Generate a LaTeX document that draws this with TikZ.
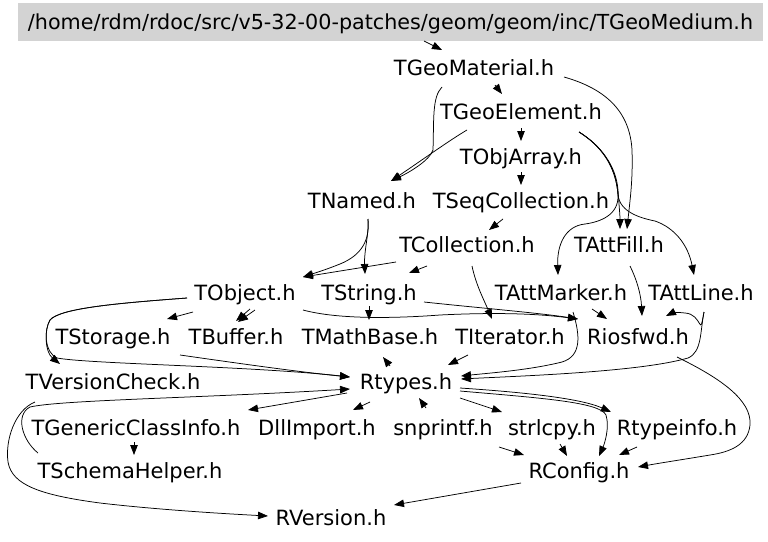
\documentclass[tikz,border=0pt]{standalone}
\usepackage{fontspec}
\setmainfont{DejaVu Sans}
\usetikzlibrary{arrows.meta}
\definecolor{hdrgray}{RGB}{211,211,211}
\begin{document}
\begin{tikzpicture}[x=1pt,y=-1pt,
  lbl/.style={inner sep=0pt, text height=15.3pt, text depth=0pt, font=\fontsize{21}{25}\selectfont},
  hdr/.style={lbl, font=\fontsize{20.7}{25}\selectfont, fill=hdrgray, minimum width=745pt, minimum height=38pt},
  arr/.style={draw=black, line width=0.75pt, -{Triangle[length=10pt,width=7.5pt]}}]
\useasboundingbox (0,0) rectangle (768,541);
\node[hdr] (H) at (390.5,22) {/home/rdm/rdoc/src/v5-32-00-patches/geom/geom/inc/TGeoMedium.h};
\node[lbl] (GMat) at (474,68) {TGeoMaterial.h};
\node[lbl] (GEl) at (521,112) {TGeoElement.h};
\node[lbl] (OA) at (521,157) {TObjArray.h};
\node[lbl] (Named) at (362,201) {TNamed.h};
\node[lbl] (Seq) at (521,201) {TSeqCollection.h};
\node[lbl] (Coll) at (467,245) {TCollection.h};
\node[lbl] (Fill) at (619,245) {TAttFill.h};
\node[lbl] (Obj) at (245,293) {TObject.h};
\node[lbl] (Str) at (369,293) {TString.h};
\node[lbl] (Mark) at (561,293) {TAttMarker.h};
\node[lbl] (Line) at (701,293) {TAttLine.h};
\node[lbl] (Stor) at (113,337) {TStorage.h};
\node[lbl] (Buf) at (236,337) {TBuffer.h};
\node[lbl] (Math) at (370,337) {TMathBase.h};
\node[lbl] (Iter) at (510,337) {TIterator.h};
\node[lbl] (Rios) at (638,337) {Riosfwd.h};
\node[lbl] (VC) at (113,382) {TVersionCheck.h};
\node[lbl] (Rt) at (406,382) {Rtypes.h};
\node[lbl] (GCI) at (136,428) {TGenericClassInfo.h};
\node[lbl] (Dll) at (317,428) {DllImport.h};
\node[lbl] (Snp) at (443,428) {snprintf.h};
\node[lbl] (Strl) at (552,428) {strlcpy.h};
\node[lbl] (Rti) at (677,428) {Rtypeinfo.h};
\node[lbl] (SH) at (130,471) {TSchemaHelper.h};
\node[lbl] (RC) at (579,471) {RConfig.h};
\node[lbl] (RV) at (331,518) {RVersion.h};
% edges
\draw[arr] ([shift={(33.5,19)}]H.center) -- ([shift={(-32,-18)}]GMat.center);
\draw[arr] ([shift={(21,17)}]GMat.center) -- ([shift={(-19,-18)}]GEl.center);
\draw[arr] ([shift={(-32,19)}]GMat.center) .. controls (432,97) and (434,120) .. (433,150) .. controls (430,160) and (410,172) .. ([shift={(29,-20)}]Named.center);
\draw[arr] ([shift={(-54,18)}]GEl.center) .. controls (450,140) and (425,158) .. ([shift={(29,-20)}]Named.center);
\draw[arr] ([shift={(90,9)}]GMat.center) .. controls (610,90) and (630,115) .. (632,150) .. controls (633,180) and (630,200) .. ([shift={(8,-16)}]Fill.center);
\draw[arr] ([shift={(58,20)}]GEl.center) .. controls (600,145) and (616,165) .. (618,190) .. controls (619,205) and (620,215) .. ([shift={(1,-16)}]Fill.center);
\draw[arr] ([shift={(58,20)}]GEl.center) .. controls (600,145) and (616,165) .. (618,195) .. controls (619,215) and (600,222) .. (585,224) .. controls (565,226) and (557,245) .. ([shift={(-3,-18)}]Mark.center);
\draw[arr] ([shift={(58,20)}]GEl.center) .. controls (600,145) and (616,165) .. (618,195) .. controls (620,212) and (640,218) .. (655,221) .. controls (675,228) and (688,245) .. ([shift={(-7,-18)}]Line.center);
\draw[arr] ([shift={(0,16)}]GEl.center) -- ([shift={(0,-16)}]OA.center);
\draw[arr] ([shift={(0,15)}]OA.center) -- ([shift={(0,-16)}]Seq.center);
\draw[arr] ([shift={(-18,18)}]Seq.center) -- ([shift={(22,-15)}]Coll.center);
\draw[arr] ([shift={(6,18)}]Named.center) .. controls (370,240) and (362,255) .. (340,264) .. controls (325,270) and (315,273) .. ([shift={(58,-16)}]Obj.center);
\draw[arr] ([shift={(6,18)}]Named.center) .. controls (369,235) and (364,250) .. ([shift={(-4,-19)}]Str.center);
\draw[arr] ([shift={(-71,17)}]Coll.center) -- ([shift={(58,-16)}]Obj.center);
\draw[arr] ([shift={(-40,21)}]Coll.center) -- ([shift={(40,-20)}]Str.center);
\draw[arr] ([shift={(5,21)}]Coll.center) .. controls (476,285) and (484,300) .. ([shift={(-18,-18)}]Iter.center);
\draw[arr] ([shift={(-52,19)}]Obj.center) -- ([shift={(54,-18)}]Stor.center);
\draw[arr] ([shift={(10,17)}]Obj.center) -- ([shift={(2,-15)}]Buf.center);
\draw[arr] ([shift={(5,16)}]Obj.center) -- ([shift={(0,-16)}]Buf.center);
\draw[arr] ([shift={(-58,5)}]Obj.center) .. controls (120,303) and (60,308) .. (50,320) .. controls (44,330) and (45,352) .. ([shift={(-53,-18)}]VC.center);
\draw[arr] ([shift={(-58,5)}]Obj.center) .. controls (120,303) and (60,308) .. (50,320) .. controls (44,330) and (44,352) .. (57,358) .. controls (90,364) and (250,366) .. ([shift={(-56,-5)}]Rt.center);
\draw[arr] ([shift={(58,17)}]Obj.center) .. controls (340,320) and (400,318) .. (440,315) .. controls (500,312) and (540,314) .. ([shift={(-60,-18)}]Rios.center);
\draw[arr] ([shift={(55,9)}]Str.center) .. controls (480,308) and (540,313) .. ([shift={(-60,-18)}]Rios.center);
\draw[arr] ([shift={(0,13)}]Str.center) -- ([shift={(-1,-17)}]Math.center);
\draw[arr] ([shift={(67,18)}]Stor.center) .. controls (250,365) and (300,372) .. ([shift={(-56,-5)}]Rt.center);
\draw[arr] ([shift={(-16,-16)}]Rt.center) -- ([shift={(13,20)}]Math.center);
\draw[arr] ([shift={(-42,18)}]Iter.center) -- ([shift={(42,-17)}]Rt.center);
\draw[arr] ([shift={(31,16)}]Mark.center) -- ([shift={(-31,-18)}]Rios.center);
\draw[arr] ([shift={(12,19)}]Mark.center) .. controls (580,335) and (582,356) .. (562,362) .. controls (530,370) and (490,373) .. ([shift={(55,-6)}]Rt.center);
\draw[arr] ([shift={(3,19)}]Line.center) .. controls (700,332) and (702,352) .. (688,358) .. controls (640,372) and (520,376) .. ([shift={(55,-3)}]Rt.center);
\draw[arr] ([shift={(3,19)}]Line.center) .. controls (699,340) and (703,314) .. (685,313) .. controls (678,312) and (672,313) .. ([shift={(28,-21)}]Rios.center);
\draw[arr] ([shift={(11,21)}]Fill.center) .. controls (637,280) and (641,295) .. ([shift={(4,-21)}]Rios.center);
\draw[arr] ([shift={(39,20)}]Rios.center) .. controls (720,378) and (752,400) .. (750,425) .. controls (748,445) and (730,452) .. (710,455) .. controls (680,460) and (660,463) .. ([shift={(59,-4)}]RC.center);
\draw[arr] ([shift={(-78,20)}]VC.center) .. controls (15,410) and (5,440) .. (8,462) .. controls (12,485) and (40,495) .. (100,503) .. controls (160,510) and (230,514) .. ([shift={(-63,-2)}]RV.center);
\draw[arr] ([shift={(-92,-18)}]SH.center) .. controls (22,440) and (15,415) .. (30,407) .. controls (60,400) and (200,398) .. ([shift={(-56,7)}]Rt.center);
\draw[arr] ([shift={(-59,11)}]Rt.center) -- ([shift={(112,-18)}]GCI.center);
\draw[arr] ([shift={(-36,20)}]Rt.center) -- ([shift={(36,-18)}]Dll.center);
\draw[arr] ([shift={(-17,-20)}]Snp.center) -- ([shift={(13,16)}]Rt.center);
\draw[arr] ([shift={(54,16)}]Rt.center) -- ([shift={(-50,-16)}]Strl.center);
\draw[arr] ([shift={(54,6)}]Rt.center) .. controls (520,392) and (580,398) .. ([shift={(-66,-16)}]Rti.center);
\draw[arr] ([shift={(54,9)}]Rt.center) .. controls (540,398) and (600,402) .. (606,415) .. controls (610,428) and (604,445) .. ([shift={(20,-15)}]RC.center);
\draw[arr] ([shift={(56,19)}]Snp.center) -- ([shift={(-55,-16)}]RC.center);
\draw[arr] ([shift={(8,16)}]Strl.center) -- ([shift={(-12,-15)}]RC.center);
\draw[arr] ([shift={(-40,19)}]Rti.center) -- ([shift={(40,-16)}]RC.center);
\draw[arr] ([shift={(-58,12)}]RC.center) -- ([shift={(63,-13)}]RV.center);
\draw[arr] ([shift={(-2,14)}]GCI.center) -- ([shift={(4,-16)}]SH.center);
\end{tikzpicture}
\end{document}
